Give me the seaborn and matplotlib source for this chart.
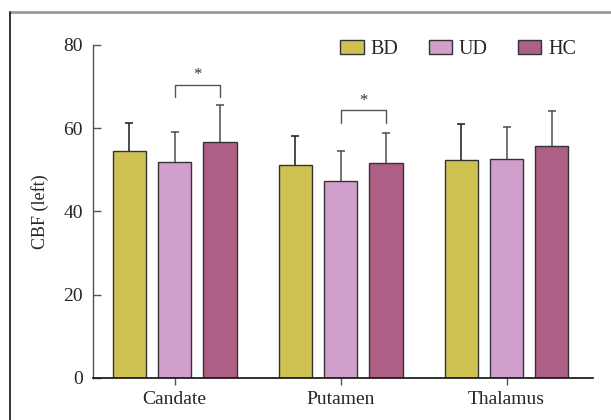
import matplotlib
matplotlib.use("Agg")
import matplotlib.pyplot as plt
import seaborn as sns
import pandas as pd
from matplotlib.lines import Line2D

regions = ["Candate", "Putamen", "Thalamus"]
groups = ["BD", "UD", "HC"]
means = {
    "BD": [54.6, 51.2, 52.4],
    "UD": [52.0, 47.3, 52.5],
    "HC": [56.7, 51.7, 55.7],
}
sds = {
    "BD": [6.7, 6.9, 8.6],
    "UD": [7.1, 7.2, 7.7],
    "HC": [9.0, 7.2, 8.4],
}
colors = ["#CFC152", "#D19FCB", "#AE5F86"]
err_colors = ["#1a1a1a", "#4d4d4d", "#4d4d4d"]

# significance brackets: (region index, group a, group b, bracket top, arm bottom)
sig = [(0, "UD", "HC", 70.4, 67.6), (1, "UD", "HC", 64.3, 61.2)]

rows = []
for g in groups:
    for r, m in zip(regions, means[g]):
        rows.append({"region": r, "group": g, "cbf": m})
df = pd.DataFrame(rows)

sns.set_style("ticks")
plt.rcParams["font.family"] = ["Liberation Serif", "DejaVu Serif"]

fig = plt.figure(figsize=(6.11, 4.20), dpi=100)
ax = fig.add_axes([0.1514, 0.1, 0.970 - 0.1514, 0.8929 - 0.1])

sns.barplot(data=df, x="region", y="cbf", hue="group", order=regions,
            hue_order=groups, palette=colors, errorbar=None, width=0.82,
            gap=0.27, edgecolor="#333333", linewidth=1.0, saturation=1,
            ax=ax)

centers = {}
for gi, (g, cont) in enumerate(zip(groups, ax.containers)):
    xs = [p.get_x() + p.get_width() / 2 for p in cont.patches]
    centers[g] = xs
    eb = ax.errorbar(xs, means[g], yerr=[[0] * len(xs), sds[g]], fmt="none",
                     ecolor=err_colors[gi], elinewidth=1.1, capsize=3,
                     capthick=1.1, zorder=1)
    eb[1][0].set_visible(False)  # no cap at the bar top

for ri, a, b, top, bot in sig:
    xa, xb = centers[a][ri], centers[b][ri]
    ax.plot([xa, xa, xb, xb], [bot, top, top, bot], color="#555555", lw=1.0)
    ax.text((xa + xb) / 2, top + 0.4, "*", ha="center", va="bottom",
            fontsize=12, color="#333333")

ax.set_ylim(0, 80)
ax.set_xlim(-0.495, 2.519)
ax.set_yticks([0, 20, 40, 60, 80])
ax.set_xlabel("")
ax.set_ylabel("CBF (left)", fontsize=13, labelpad=10)
ax.tick_params(axis="y", direction="in", length=6, width=1, color="#555555",
               labelsize=14, pad=7)
ax.tick_params(axis="x", direction="out", length=5, width=1, color="#555555",
               labelsize=14, pad=4)
sns.despine(ax=ax)
ax.spines["left"].set_color("#555555")
ax.spines["bottom"].set_color("#111111")
ax.spines["left"].set_linewidth(1.0)
ax.spines["bottom"].set_linewidth(1.2)

leg = ax.legend(loc="upper right", bbox_to_anchor=(0.983, 1.04), ncol=3,
                frameon=False, fontsize=14.5, handlelength=1.15,
                handleheight=0.7, handletextpad=0.35, columnspacing=1.5,
                borderaxespad=0)
for h in leg.legend_handles:
    h.set_edgecolor("#333333")
    h.set_linewidth(1.0)

fig.add_artist(Line2D([9.5 / 611, 1], [1 - 12 / 420, 1 - 12 / 420],
                      transform=fig.transFigure, color="#999999", lw=2))
fig.add_artist(Line2D([9.5 / 611, 9.5 / 611], [0, 1 - 12 / 420],
                      transform=fig.transFigure, color="#111111", lw=1.2))

fig.savefig("out.png", dpi=100)
